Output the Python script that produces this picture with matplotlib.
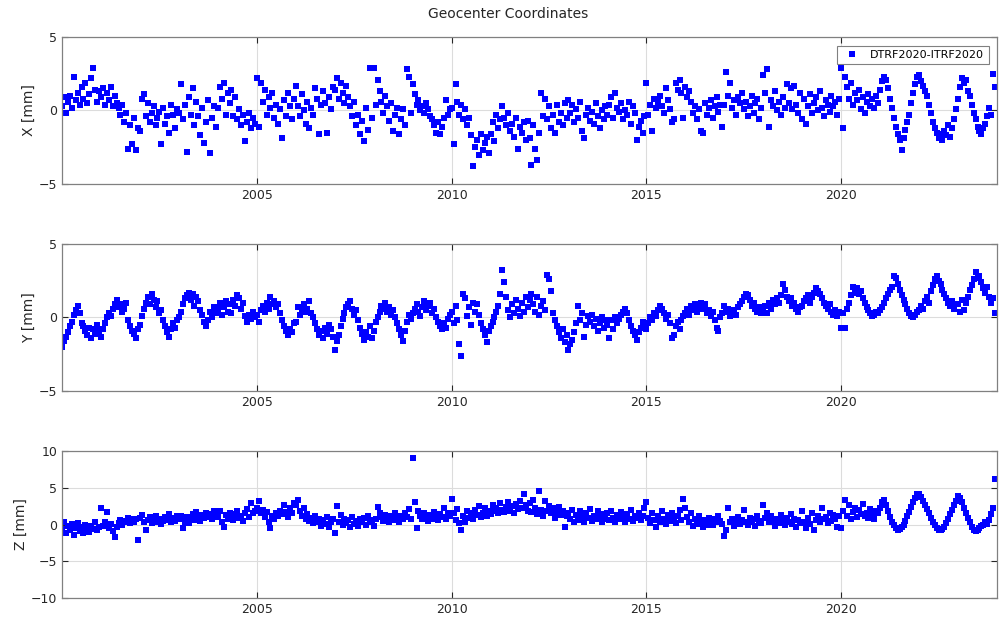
import numpy as np
import matplotlib
matplotlib.use("Agg")
import matplotlib.pyplot as plt

# valores, 20 amostras por ano (2000 ... 2023)
per_year = 20
first_year = 2000

x_mm = [
    [0.3, 0.9, -0.2, 0.6, 1.0, 0.2, 2.3, 0.7, 1.2, 0.4, 1.6, 0.8, 1.9, 0.5, 1.1, 2.2, 2.9, 1.4, 0.6, 1.3],
    [0.9, 1.5, 0.4, 1.2, 0.7, 1.6, 0.3, 1.0, 0.5, 0.2, -0.3, 0.4, -0.8, -0.2, -2.6, -1.0, -2.3, -0.5, -2.7, -1.2],
    [-1.4, 0.8, 1.1, -0.4, 0.5, -0.8, -0.2, 0.3, -1.0, -0.5, -0.1, -2.3, 0.2, -0.9, -0.4, -1.5, 0.4, -0.3, -1.2, 0.1],
    [-0.2, 1.8, -0.6, 0.4, -2.8, 0.9, -0.3, 1.5, -1.0, 0.6, -0.4, -1.7, 0.2, -2.2, -0.8, 0.7, -2.9, -0.5, 0.3, -1.1],
    [0.2, 1.6, 0.8, 1.9, -0.3, 1.2, 0.5, 1.4, -0.4, 0.9, -0.6, 0.1, -1.0, -0.3, -2.1, -0.8, -0.2, -1.2, -0.5, -0.9],
    [2.2, -1.1, 1.9, 0.6, 1.4, -0.3, 0.9, 0.2, 1.2, -0.5, 0.4, -0.9, 0.1, -1.9, 0.7, -0.4, 1.2, 0.3, -0.6, 0.8],
    [1.7, 0.3, -0.4, 1.1, 0.0, -0.9, 0.6, -1.2, 0.2, -0.3, 1.5, 0.8, -1.6, 0.4, 1.3, 0.5, -1.5, 0.9, 0.1, 1.6],
    [1.4, 2.2, 0.8, 1.9, 1.2, 0.5, 1.7, 0.9, 0.3, -0.4, 0.6, -1.0, -0.3, -1.6, -0.7, -2.1, 0.2, -1.3, 2.9, -0.5],
    [2.9, 0.4, 2.1, 1.3, 0.6, -0.2, 1.0, 0.3, -0.7, 0.5, -1.4, -0.3, 0.2, -1.6, -0.6, 0.1, -1.0, 2.8, 2.3, -0.2],
    [1.8, 1.1, 0.4, 0.7, 0.0, 0.3, -0.2, 0.5, 0.1, -0.4, -0.6, -1.0, -1.5, -0.8, -1.6, -1.1, -0.5, 0.7, -0.3, 0.1],
    [0.2, -2.3, 1.8, 0.6, -0.3, 0.4, -0.6, 0.1, -1.0, -0.5, -1.7, -3.8, -2.5, -2.0, -3.0, -1.6, -2.7, -2.2, -1.8, -2.9],
    [-1.6, -0.8, -2.1, -0.3, -1.2, -0.6, 0.3, -0.5, -1.0, -0.2, -1.4, -0.9, -1.8, -0.5, -2.6, -1.1, -1.5, -0.8, -2.0, -0.7],
    [-1.9, -3.7, -1.0, -2.6, -3.4, -1.5, 1.2, -0.4, 0.8, -0.6, 0.3, -1.2, -0.3, -1.5, 0.4, -0.8, -0.2, -1.0, 0.5, -0.5],
    [0.7, -0.2, 0.4, -0.8, 0.1, -0.5, 0.6, -1.4, -1.9, -0.3, 0.2, -0.7, -0.1, -0.9, 0.5, -0.4, -1.2, 0.0, -0.6, 0.3],
    [-0.3, 0.4, 0.9, -0.5, 1.2, 0.2, -0.1, 0.5, -0.6, 0.0, -0.3, 0.6, -0.9, 0.3, -0.2, -2.0, -1.1, -0.7, -1.5, -0.4],
    [1.9, -0.3, 0.4, -1.4, 0.8, 0.2, 0.6, 1.0, 0.3, -0.2, 1.5, 0.7, 0.1, -0.8, -0.6, 1.9, 1.4, 2.1, 1.2, -0.5],
    [1.6, 0.9, 1.3, 0.6, -0.2, 0.3, -0.6, 0.1, -1.4, -1.5, 0.5, -0.3, 0.2, 0.7, -0.5, 0.3, 0.9, -0.1, 0.4, -1.1],
    [0.4, 2.6, 1.0, 1.9, 0.2, 0.7, -0.3, 0.9, 0.5, 1.2, 0.1, 0.6, -0.4, 0.3, 1.0, -0.2, 0.5, 0.8, -0.6, 0.2],
    [2.4, 1.2, 2.8, -1.1, 0.7, 0.3, 1.3, 0.0, 0.6, -0.3, 0.9, 0.2, 1.8, 0.5, 1.5, 0.1, 1.7, 0.4, -0.2, 1.2],
    [-0.6, 0.8, -0.9, 0.3, 1.1, -0.2, 0.5, 0.9, 0.0, 1.3, 0.2, -0.4, 0.7, 0.4, -0.1, 1.0, 0.3, 0.6, -0.3, 0.8],
    [2.9, -1.2, 2.3, 1.6, 0.8, 1.9, 0.4, 1.2, 0.7, 1.4, 0.1, 0.9, -0.2, 0.6, 1.1, 0.3, 0.8, 0.2, 1.0, 0.5],
    [1.4, 2.0, 2.3, 2.1, 1.5, 0.8, 0.2, -0.5, -1.1, -1.6, -2.0, -2.7, -1.9, -1.3, -0.8, -0.3, 0.5, 1.2, 1.8, 2.3],
    [2.4, 2.0, 1.7, 1.3, 1.0, 0.4, -0.2, -0.8, -1.2, -1.5, -1.9, -1.6, -2.0, -1.4, -1.7, -1.0, -1.8, -1.2, -0.6, 0.1],
    [0.8, 1.6, 2.2, 1.9, 2.1, 1.3, 1.0, 0.4, -0.2, -0.6, -1.1, -1.4, -1.6, -1.2, -0.9, -0.4, 0.2, -0.3, 2.5, 1.6],
]

y_mm = [
    [-2.0, -1.6, -1.3, -1.0, -0.6, -0.3, 0.2, 0.5, 0.8, 0.3, -0.4, -0.6, -0.9, -1.2, -0.7, -1.4, -0.8, -1.1, -0.5, -0.9],
    [-1.3, -0.8, -0.4, 0.0, 0.3, 0.1, 0.6, 0.9, 1.2, 0.7, 0.9, 0.4, 0.6, 1.0, -0.2, -0.6, -0.9, -1.1, -1.4, -0.8],
    [-0.5, 0.1, 0.6, 1.0, 1.4, 0.9, 1.6, 1.2, 0.7, 1.1, 0.3, 0.5, -0.2, -0.6, -1.0, -1.3, -0.8, -0.4, -0.7, -0.2],
    [0.0, 0.4, 0.9, 1.3, 1.5, 1.7, 1.2, 1.6, 0.8, 1.4, 1.1, 0.5, 0.2, -0.3, -0.6, -0.2, 0.4, 0.0, 0.7, 0.3],
    [0.6, 1.0, 0.2, 0.7, 1.1, 0.4, 0.9, 0.3, 1.2, 0.8, 1.5, 1.3, 0.6, 1.0, 0.1, -0.3, 0.2, -0.1, 0.4, 0.0],
    [0.2, -0.3, 0.5, 0.8, 0.4, 1.0, 0.6, 1.4, 0.9, 1.1, 0.7, 0.9, 0.3, -0.2, -0.6, -0.9, -1.2, -0.8, -1.0, -0.4],
    [-0.3, 0.7, 0.2, 0.5, 0.9, 0.4, 0.6, 1.1, 0.3, 0.0, -0.4, -0.8, -1.2, -0.9, -1.4, -0.7, -1.1, -0.5, -0.8, -1.3],
    [-2.2, -1.6, -1.2, -0.6, -0.1, 0.3, 0.7, 0.9, 1.1, 0.6, 0.2, 0.5, -0.2, -0.7, -1.1, -1.5, -1.0, -1.3, -0.6, -1.4],
    [-0.9, -0.3, 0.0, 0.4, 0.8, 0.6, 1.0, 0.4, 0.7, 0.2, 0.5, 0.0, -0.4, -0.8, -1.2, -1.6, -0.9, -0.3, 0.2, -0.1],
    [0.3, 0.6, 0.9, 0.4, 0.1, 0.7, 1.1, 0.5, 0.8, 1.0, 0.3, 0.6, 0.0, -0.3, -0.6, -0.8, -0.4, -0.7, -0.1, 0.2],
    [0.4, -0.4, 0.8, -0.2, -1.8, -2.6, 1.6, 1.3, 0.1, 0.7, -0.5, 1.0, 0.4, 0.9, 0.2, -0.4, -0.8, -1.2, -1.7, -0.9],
    [-0.6, -0.3, 0.0, 0.4, 0.8, 1.6, 3.2, 2.4, 1.4, 0.5, 0.0, 0.9, 0.3, 1.2, 0.6, 0.1, 1.0, 0.4, 1.4, 0.7],
    [1.2, 1.6, 0.9, 0.4, 1.4, 0.2, 0.8, 1.1, 0.5, 2.9, 2.6, 1.8, 0.3, -0.2, -0.6, -1.0, -1.4, -0.8, -1.7, -1.2],
    [-2.2, -1.8, -1.5, -1.0, -0.4, 0.8, -0.2, 0.3, -1.3, -0.5, 0.1, -0.3, 0.2, -0.6, -0.1, -0.9, -0.4, 0.0, -0.7, -0.2],
    [-0.5, -1.4, -0.2, -0.8, 0.0, -0.4, -0.1, 0.2, 0.4, 0.6, 0.3, -0.2, -0.6, -0.9, -1.2, -1.5, -1.0, -0.7, -0.3, -0.5],
    [-0.8, -0.4, 0.0, -0.2, 0.3, 0.1, 0.5, 0.8, 0.6, 0.3, -0.1, 0.2, -0.4, -1.4, -1.2, -0.6, -0.3, -0.8, -0.2, 0.1],
    [0.3, 0.6, 0.2, 0.8, 0.5, 0.9, 0.4, 0.7, 1.0, 0.6, 0.9, 0.3, 0.5, 0.1, 0.4, -0.2, -0.7, -0.9, 0.0, 0.3],
    [0.8, 0.4, 0.6, 0.1, 0.3, 0.5, 0.2, 0.7, 0.9, 1.1, 1.4, 1.6, 1.5, 1.2, 0.8, 1.0, 0.6, 0.4, 0.7, 0.3],
    [0.4, 0.8, 0.3, 1.0, 0.6, 1.2, 0.9, 1.3, 1.0, 1.5, 2.3, 1.9, 1.4, 1.1, 1.3, 0.8, 1.0, 0.6, 0.4, 0.7],
    [0.8, 1.1, 1.3, 1.5, 1.0, 1.4, 1.7, 2.0, 1.8, 1.6, 1.3, 1.0, 0.8, 0.6, 0.9, 0.4, 0.2, 0.5, 0.1, 0.4],
    [-0.7, 0.3, -0.7, 0.6, 1.0, 1.5, 2.1, 1.7, 2.0, 1.6, 1.8, 1.3, 1.0, 0.7, 0.5, 0.3, 0.1, 0.2, 0.4, 0.3],
    [0.5, 0.7, 1.0, 1.3, 1.6, 1.9, 2.1, 2.8, 2.7, 2.3, 1.9, 1.5, 1.2, 0.9, 0.6, 0.3, 0.1, 0.0, 0.2, 0.4],
    [0.5, 0.8, 0.6, 1.1, 1.4, 1.0, 1.8, 2.2, 2.6, 2.8, 2.5, 2.3, 1.9, 1.6, 1.3, 1.0, 0.8, 1.1, 0.6, 0.9],
    [0.9, 0.4, 1.2, 0.5, 1.0, 1.4, 1.9, 2.2, 2.6, 3.1, 2.7, 2.8, 2.4, 2.0, 1.7, 2.1, 1.4, 1.0, 1.3, 0.3],
]

z_mm = [
    [-0.6, 0.3, -1.1, -0.2, -0.8, 0.1, -1.4, -0.5, 0.2, -0.9, -0.3, -1.2, 0.0, -0.7, -1.0, -0.2, -0.6, 0.3, -0.8, -0.4],
    [2.2, -0.2, 0.4, 1.7, -0.5, 0.1, -0.9, -1.7, -0.3, 0.2, 0.6, -0.1, 0.3, 0.5, 0.9, 0.2, 0.7, 0.4, 0.8, -2.1],
    [0.9, 1.3, 0.3, -0.8, 0.6, 1.0, 0.2, 0.7, 1.2, 0.4, 0.8, 0.1, 0.5, 1.0, 0.6, 1.4, 0.3, 0.9, 0.5, 1.1],
    [0.7, 1.2, -0.5, 0.4, 1.0, 0.2, 0.8, 1.4, 0.6, 1.7, 1.1, 0.5, 1.3, 0.9, 1.6, 1.0, 1.4, 0.7, 1.9, 1.2],
    [1.0, 1.8, 0.3, -0.4, 1.3, 0.8, 1.6, 1.1, 0.6, 1.4, 1.9, 0.9, 1.2, 0.5, 1.6, 2.1, 1.0, 2.9, 1.5, 1.8],
    [2.3, 3.2, 1.5, 2.0, 1.0, 1.7, 0.4, -0.5, 1.2, 0.8, 1.6, 1.1, 1.9, 1.4, 2.6, 1.7, 1.0, 2.2, 1.5, 2.9],
    [2.6, 3.3, 1.8, 1.2, 2.2, 0.8, 1.4, 0.5, 0.9, 0.2, 1.1, 0.4, 0.7, -0.2, 0.6, 0.1, 1.0, -0.4, 0.3, 0.8],
    [-1.2, 2.5, 0.4, 1.3, -0.1, 0.8, 0.2, 0.6, -0.3, 1.0, 0.1, 0.5, -0.2, 0.7, 0.3, 0.9, 0.0, 1.2, 0.4, 0.6],
    [-0.2, 0.7, 2.4, 1.6, 1.0, 0.5, 1.3, 0.8, 0.3, 1.1, 0.6, 1.5, 0.9, 0.4, 1.2, 0.8, 1.6, 1.0, 2.1, 0.7],
    [9.0, 3.0, -0.5, 1.8, 1.2, 0.7, 1.5, 0.9, 0.5, 1.3, 0.8, 1.7, 1.1, 0.6, 1.4, 1.0, 2.2, 0.7, 1.6, 1.2],
    [3.5, 1.5, 0.6, 2.1, 0.2, -0.8, 1.2, 0.4, 1.8, 0.9, 1.5, 0.7, 2.0, 1.3, 2.5, 1.0, 1.6, 2.3, 1.1, 1.9],
    [1.4, 2.6, 1.8, 2.2, 1.5, 2.9, 2.0, 1.7, 2.4, 3.0, 1.9, 2.5, 1.6, 2.8, 2.1, 3.2, 2.3, 4.1, 2.7, 1.8],
    [2.9, 1.7, 3.4, 2.2, 1.4, 4.6, 2.0, 1.2, 3.2, 1.8, 2.5, 1.5, 2.2, 0.9, 1.7, 2.4, 1.3, 1.9, -0.3, 1.1],
    [1.6, 0.8, 2.0, 0.4, 1.3, 0.6, 1.8, 1.0, 0.3, 1.5, 0.9, 2.1, 0.5, 1.2, 0.7, 1.9, 1.1, 0.4, 1.4, 0.8],
    [1.5, 0.6, 1.9, 0.9, 0.4, 1.3, 0.7, 1.7, 1.0, 0.3, 1.4, 0.8, 2.0, 0.5, 1.2, 0.9, 1.6, 0.6, 1.1, 2.2],
    [3.0, 0.9, 0.2, 1.5, 0.6, -0.3, 1.1, 0.4, 1.8, 0.7, 0.1, 1.3, 0.5, 1.6, 0.8, 0.2, 1.2, 2.0, 0.6, 3.5],
    [2.3, 1.0, 0.4, 1.5, -0.2, 0.7, 0.1, 1.1, 0.3, -0.3, 0.6, 0.0, 0.9, 0.2, -0.1, 0.8, 0.4, 1.2, 0.5, 0.1],
    [-1.5, -0.8, 2.2, 0.3, 0.8, -0.2, 0.5, 1.0, 0.1, 0.6, 2.0, 0.4, -0.1, 0.9, 0.3, 0.7, -0.2, 1.2, 0.5, 0.2],
    [2.7, 0.9, 1.5, 0.3, 1.1, 0.6, -0.2, 0.8, 0.2, 1.3, 0.5, 0.0, 0.9, 0.4, 1.4, 0.1, 0.7, -0.3, 0.6, 0.2],
    [1.8, 0.4, -0.5, 0.9, 0.1, 1.5, -0.8, 0.6, 1.2, 0.3, 2.3, 0.7, 1.0, 0.2, 1.6, 0.5, 1.3, 0.8, -0.3, 1.1],
    [-0.5, 1.9, 3.4, 1.2, 2.6, 0.8, 1.7, 2.3, 1.0, 2.0, 1.4, 2.8, 1.1, 1.6, 0.9, 2.1, 1.3, 0.7, 1.9, 1.5],
    [2.2, 3.1, 3.3, 2.6, 1.8, 1.0, 0.4, -0.1, -0.5, -0.8, -0.6, -0.4, 0.0, 0.5, 1.1, 1.7, 2.4, 3.0, 3.6, 4.2],
    [4.1, 3.7, 3.2, 2.7, 2.1, 1.5, 0.9, 0.4, -0.1, -0.5, -0.7, -0.8, -0.6, -0.3, 0.2, 0.8, 1.4, 2.0, 2.7, 3.2],
    [3.9, 3.6, 3.0, 2.3, 1.6, 0.9, 0.3, -0.3, -0.7, -0.9, -0.8, -0.5, -0.2, 0.0, 0.3, 0.1, 0.6, 1.4, 2.3, 6.2],
]

series_label = 'DTRF2020-ITRF2020'
panel_labels = ['X [mm]', 'Y [mm]', 'Z [mm]']
panel_yticks = [[-5, 0, 5], [-5, 0, 5], [-10, -5, 0, 5, 10]]
panel_ylims = [(-5, 5), (-5, 5), (-10, 10)]
year_ticks = [2005, 2010, 2015, 2020]

# épocas: amostragem regular dentro de cada ano
n_samples = len(x_mm) * per_year
epochs = first_year + np.arange(n_samples) / per_year

fig = plt.figure(figsize=(10.07, 6.22), dpi=100)
fig.text(0.505, 0.977, 'Geocenter Coordinates', ha='center', va='center',
         fontsize=10, color='#262626')

left, width, height = 0.0616, 0.9285, 0.2363
bottoms = [0.7042, 0.3714, 0.0386]

for i, (data, lab) in enumerate(zip([x_mm, y_mm, z_mm], panel_labels)):
    ax = fig.add_axes([left, bottoms[i], width, height])
    vals = np.concatenate(data)
    ax.plot(epochs, vals, 's', color=(0, 0, 1), markersize=5,
            markeredgewidth=0, label=series_label)
    ax.set_xlim(2000, 2024)
    ax.set_ylim(*panel_ylims[i])
    ax.set_xticks(year_ticks)
    ax.set_yticks(panel_yticks[i])
    ax.set_ylabel(lab, fontsize=10, color='#262626', labelpad=2)
    ax.grid(True, color='#dcdcdc', linewidth=0.8)
    ax.set_axisbelow(True)
    ax.tick_params(direction='in', length=4, labelsize=9, colors='#262626',
                   top=True, right=True)
    for sp in ax.spines.values():
        sp.set_color('#808080')
        sp.set_linewidth(0.9)
    if i == 0:
        leg = ax.legend(loc='upper right', fontsize=8, handletextpad=0.6,
                        borderpad=0.4, fancybox=False, framealpha=1,
                        markerscale=0.8, bbox_to_anchor=(0.997, 0.98))
        leg.get_frame().set_edgecolor('#808080')
        leg.get_frame().set_linewidth(0.8)

fig.savefig('out.png', dpi=100)
